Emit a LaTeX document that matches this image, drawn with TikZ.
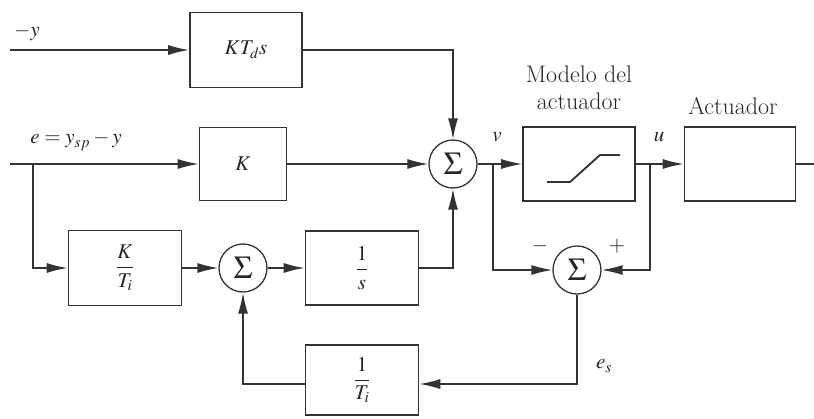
\documentclass[tikz,border=0pt]{standalone}
\usepackage{amsmath}
\usepackage{mathptmx}
\usetikzlibrary{arrows.meta,calc}
\begin{document}
\begin{tikzpicture}[x=1pt,y=-1pt,
  line width=1.6pt, draw=black!80,
  every node/.style={font=\fontsize{21}{24}\selectfont, text=black!85},
  blk/.style={draw, line width=1.6pt, rectangle, inner sep=0pt},
  sumnode/.style={draw, circle, line width=1.3pt, minimum size=48pt, inner sep=0pt, font=\fontsize{32}{34}\selectfont},
  arr/.style={-{Latex[length=21pt,width=10pt]}},
  lbl/.style={inner sep=1pt},
  txt/.style={inner sep=1pt, font=\fontsize{24}{27}\selectfont}]
\useasboundingbox (0,0) rectangle (814,418);
% blocks
\node[blk, minimum width=112pt, minimum height=75pt] (kd) at (246,50) {$KT_d s$};
\node[blk, minimum width=87pt, minimum height=73pt] (k) at (243,164) {$K$};
\node[blk, minimum width=113pt, minimum height=75pt] (ki) at (125,268) {$\dfrac{K}{T_i}$};
\node[blk, minimum width=113pt, minimum height=74pt] (is) at (362,268) {$\dfrac{1}{s}$};
\node[blk, minimum width=113pt, minimum height=70pt] (ti) at (362,380) {$\dfrac{1}{T_i}$};
\node[blk, minimum width=112pt, minimum height=74pt] (mod) at (579,164) {};
\node[blk, minimum width=111pt, minimum height=74pt] (act) at (740,164) {};
% sums
\node[sumnode] (s1) at (453,164) {$\Sigma$};
\node[sumnode] (s2) at (243,268) {$\Sigma$};
\node[sumnode] (s3) at (577,270) {$\Sigma$};
% coordinates
\coordinate (yin) at (10,50);
\coordinate (ein) at (10,164);
\coordinate (eb) at (33,164);
\coordinate (vb) at (493,164);
\coordinate (ub) at (650,164);
\coordinate (esc) at (577,384);
\coordinate (out) at (814,164);
% connectors
\draw[arr] (yin) -- (kd.west);
\draw[arr] (kd.east) -| (s1.north);
\draw[arr] (ein) -- (k.west);
\draw[arr] (eb) |- (ki.west);
\draw[arr] (k.east) -- (s1.west);
\draw[arr] (ki.east) -- (s2.west);
\draw[arr] (s2.east) -- (is.west);
\draw[arr] (is.east) -| (s1.south);
\draw[arr] (s1.east) -- (mod.west);
\draw[arr] (vb) |- (s3.west);
\draw[arr] (mod.east) -- (act.west);
\draw[arr] (ub) |- (s3.east);
\draw[arr] (s3.south) -- (esc) -- (ti.east |- esc);
\draw[arr] (ti.west |- esc) -| (s2.south);
\draw (act.east) -- (out);
% saturation
\draw[line width=1.9pt] ($(mod.center)+(-32,18)$) -- ($(mod.center)+(-9,18)$) -- ($(mod.center)+(21,-9)$) -- ($(mod.center)+(41,-9)$);
% labels
\node[lbl] (ly) at (27,33) {$-y$};
\node[lbl] (le) at (76,141) {$e = y_{sp} - y$};
\node[lbl] (lv) at (497,137) {$v$};
\node[lbl] (lu) at (659,137) {$u$};
\node[txt, align=center] (lm) at (579,88) {Modelo del\\actuador};
\node[txt] (la) at (733,106) {Actuador};
\node[lbl] (lminus) at (540,246) {$-$};
\node[lbl] (lplus) at (617,246) {$+$};
\node[lbl] (les) at (604,366) {$e_s$};
\end{tikzpicture}
\end{document}
